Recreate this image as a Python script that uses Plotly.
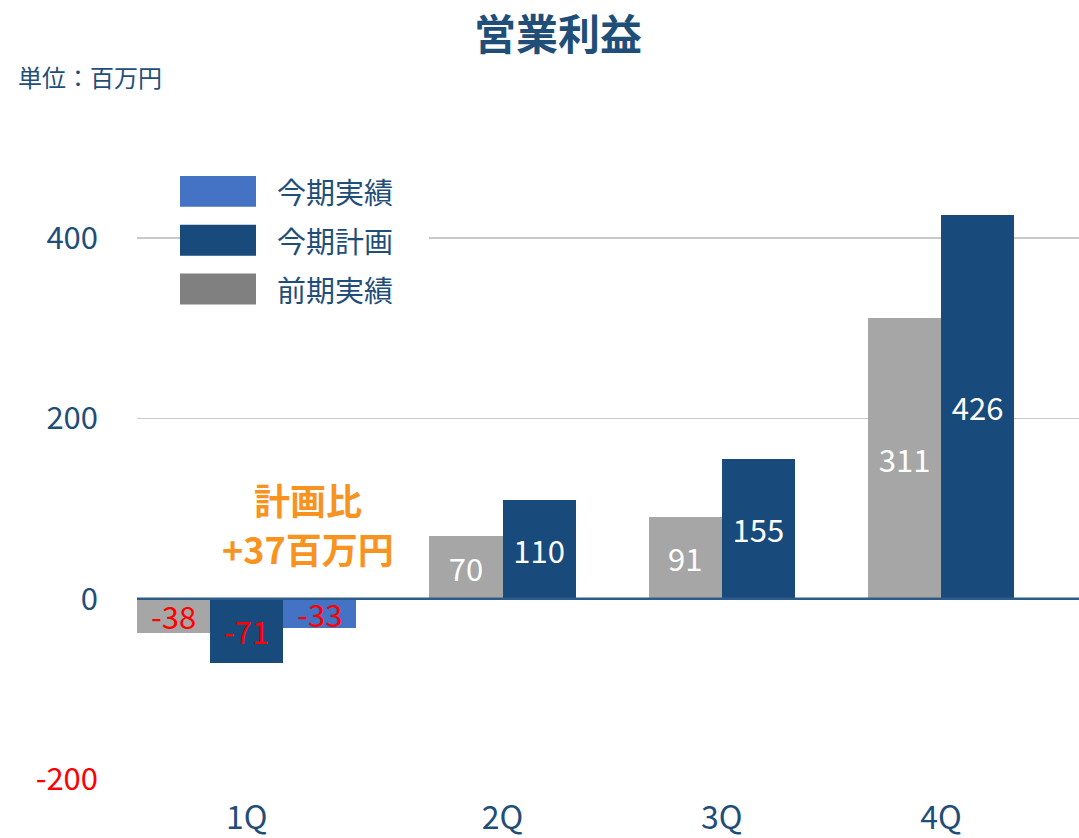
import plotly.graph_objects as go

# ---------------- data ----------------
quarters = ["1Q", "2Q", "3Q", "4Q"]
series_names = ["前期実績", "今期計画", "今期実績"]
prev_actual = [-38, 70, 91, 311]        # 前期実績
plan = [-71, 110, 155, 426]             # 今期計画
actual = [-33, None, None, None]        # 今期実績
y_ticks = [-200, 0, 200, 400]
title_text = "営業利益"
unit_text = "単位：百万円"
note_lines = ["計画比", "+37百万円"]
legend_order = ["今期実績", "今期計画", "前期実績"]

# ---------------- styles ----------------
FONT = "Noto Sans CJK JP"
NAVY_TXT = "#1F4E79"
C_PREV, C_PLAN, C_ACT = "#A6A6A6", "#184A7C", "#4472C4"
C_PREV_LEG = "#808080"
ORANGE = "#F7931E"
W, H = 1079, 838
L, R, T, B = 137, 0, 148, 57
Y_RANGE = [-200, 500]
BAR_PX = 73.1

series_vals = [prev_actual, plan, actual]
series_cols = [C_PREV, C_PLAN, C_ACT]

# group layout in bar-width units: bars touch, one bar-width gap between groups
n_in_group = [sum(1 for s in series_vals if s[i] is not None) for i in range(len(quarters))]
starts = []
pos = 0
for n in n_in_group:
    starts.append(pos)
    pos += n + 1
centers = [s + n / 2 for s, n in zip(starts, n_in_group)]
x_max = (W - L - R) / BAR_PX

fig = go.Figure()
for k, (name, vals, col) in enumerate(zip(series_names, series_vals, series_cols)):
    xs, ys = [], []
    for i, v in enumerate(vals):
        if v is None:
            continue
        xs.append(starts[i] + k + 0.5)
        ys.append(v)
    fig.add_trace(go.Bar(
        x=xs, y=ys, name=name, width=1,
        marker=dict(color=col, line=dict(width=0)),
        text=[str(v) for v in ys],
        textposition="inside", insidetextanchor="middle", textangle=0,
        textfont=dict(family=FONT, size=31,
                      color=["#FF0000" if v < 0 else "#FFFFFF" for v in ys]),
        showlegend=False, cliponaxis=False, hoverinfo="skip",
    ))

pw, ph = W - L - R, H - T - B
def px(xp):
    return (xp - L) / pw
def py(yp):
    return (H - B - yp) / ph

shapes = []
annotations = []
# zero line above bars
shapes.append(dict(type="line", xref="paper", yref="y", x0=0, x1=1, y0=0, y1=0,
                   line=dict(color="#2E5C8A", width=2.5), layer="above"))
# legend background (hides gridline)
shapes.append(dict(type="rect", xref="paper", yref="paper",
                   x0=px(256), x1=px(429), y0=py(312), y1=py(168),
                   fillcolor="white", line=dict(width=0), layer="above"))
leg_cols = {"今期実績": C_ACT, "今期計画": C_PLAN, "前期実績": C_PREV_LEG}
for j, name in enumerate(legend_order):
    yc = 191.5 + 49 * j
    shapes.append(dict(type="rect", xref="paper", yref="paper",
                       x0=px(180), x1=px(256), y0=py(yc + 15.5), y1=py(yc - 15.5),
                       fillcolor=leg_cols[name], line=dict(width=0), layer="above"))
    annotations.append(dict(xref="paper", yref="paper", x=px(275), y=py(yc),
                            xanchor="left", yanchor="middle", showarrow=False,
                            text=name, font=dict(family=FONT, size=29, color=NAVY_TXT)))

annotations.append(dict(xref="paper", yref="paper", x=px(558), y=py(31),
                        xanchor="center", yanchor="middle", showarrow=False,
                        text=f"<b>{title_text}</b>",
                        font=dict(family=FONT, size=42, color=NAVY_TXT)))
annotations.append(dict(xref="paper", yref="paper", x=px(16), y=py(76),
                        xanchor="left", yanchor="middle", showarrow=False,
                        text=unit_text, font=dict(family=FONT, size=24, color=NAVY_TXT)))
for j, line in enumerate(note_lines):
    annotations.append(dict(xref="paper", yref="paper", x=px(308), y=py(500 + 49 * j),
                            xanchor="center", yanchor="middle", showarrow=False,
                            text=f"<b>{line}</b>",
                            font=dict(family=FONT, size=36, color=ORANGE)))

tick_text = [f"<span style='color:#FF0000'>{v}</span>" if v < 0 else str(v) for v in y_ticks]

fig.update_layout(
    width=W, height=H,
    margin=dict(l=L, r=R, t=T, b=B, pad=0),
    plot_bgcolor="white", paper_bgcolor="white",
    barmode="overlay", bargap=0,
    font=dict(family=FONT, color=NAVY_TXT),
    hovermode=False,
    xaxis=dict(range=[0, x_max], tickvals=centers, ticktext=quarters,
               showgrid=False, zeroline=False, showline=False, ticks="",
               tickfont=dict(family=FONT, size=32, color=NAVY_TXT),
               ticklabelstandoff=17, fixedrange=True),
    yaxis=dict(range=Y_RANGE, tickvals=y_ticks, ticktext=tick_text,
               showgrid=True, gridcolor="#C9C9C9", gridwidth=1.5,
               zeroline=False, showline=False, ticks="",
               tickfont=dict(family=FONT, size=31, color=NAVY_TXT),
               ticklabelstandoff=38, fixedrange=True),
    shapes=shapes, annotations=annotations,
    uniformtext=dict(minsize=31, mode="show"),
)

fig.write_html("out.html", config={"displayModeBar": False, "staticPlot": True},
               post_script="document.body.style.margin='0';document.body.style.overflow='hidden';")
